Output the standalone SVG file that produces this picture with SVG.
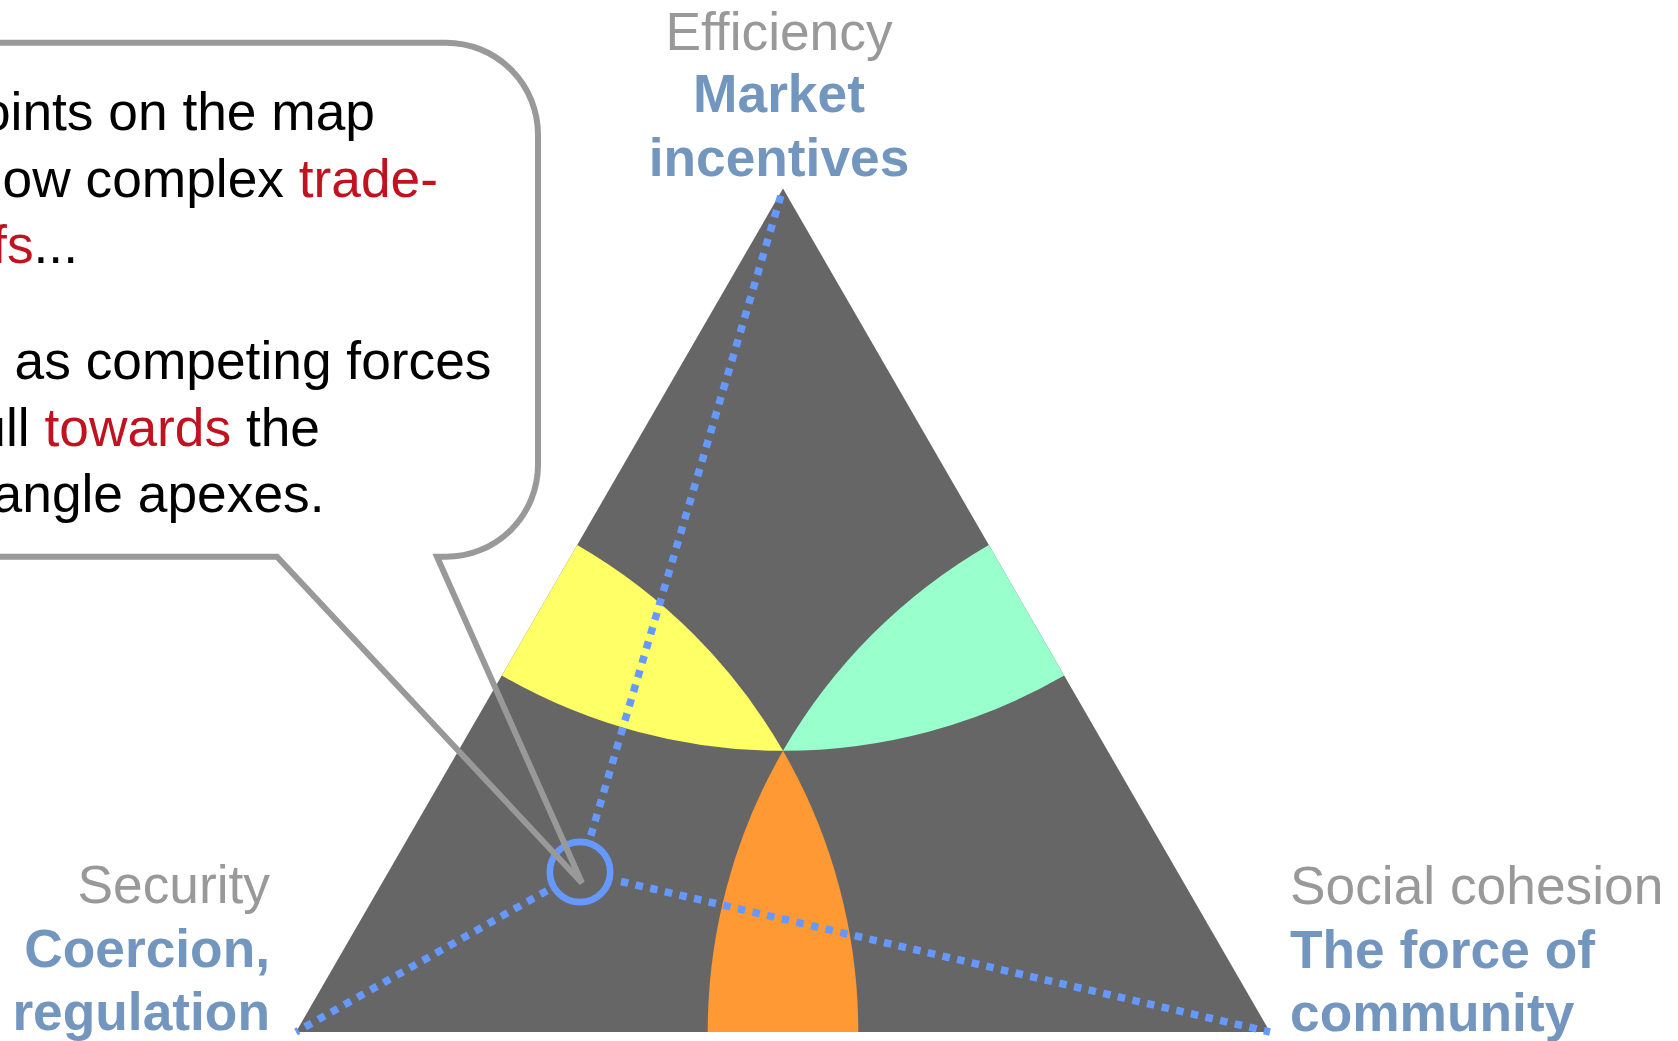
<svg xmlns="http://www.w3.org/2000/svg" width="1678" height="1041" viewBox="0 0 1678 1041">
  <style>
    .lbl { font-family: "Liberation Sans", Arial, sans-serif; font-size: 53.3px; }
    .grey { fill: #999999; }
    .blue { fill: #7396BE; font-weight: bold; }
    .txt { font-family: "Liberation Sans", Arial, sans-serif; font-size: 53.3px; fill: #000000; }
    .red { fill: #C1121F; }
    .dot { fill: none; stroke: #6699FF; stroke-width: 7.5; stroke-dasharray: 7.5 7.5; }
  </style>
  <rect width="1678" height="1041" fill="#FFFFFF"/>

  <g id="triangle">
    <path d="M783 188.5 L1270 1032 L296 1032 Z" fill="#666666"/>
  </g>
  <g id="region-yellow">
    <path d="M501.8 675.5 L577.2 545 A562.3 562.3 0 0 1 783 750.8 A562.3 562.3 0 0 1 501.8 675.5 Z" fill="#FFFF66"/>
  </g>
  <g id="region-green">
    <path d="M988.8 545 L1064.2 675.5 A562.3 562.3 0 0 1 783 750.8 A562.3 562.3 0 0 1 988.8 545 Z" fill="#99FFCC"/>
  </g>
  <g id="region-orange">
    <path d="M707.7 1032 A562.3 562.3 0 0 1 783 750.8 A562.3 562.3 0 0 1 858.3 1032 Z" fill="#FF9933"/>
  </g>

  <g id="connectors">
    <line class="dot" x1="590.8" y1="835.6" x2="783" y2="188.5"/>
    <line class="dot" x1="546.9" y1="890.7" x2="296" y2="1032"/>
    <line class="dot" x1="621" y1="881.5" x2="1270" y2="1032"/>
  </g>

  <g id="point">
    <circle cx="580" cy="872" r="30.2" fill="none" stroke="#6699FF" stroke-width="6.7"/>
  </g>

  <g id="callout">
    <path d="M-100 42.7 H446 A92 92 0 0 1 538 134.7 V464.7 A92 92 0 0 1 446 556.7 H437 L582 883 L277 556.7 H-100 Z" fill="none" stroke="#999999" stroke-width="6"/>
    <text class="txt" text-anchor="end" x="375" y="130">oints on the map</text>
    <text class="txt" text-anchor="end" x="438" y="196.7">ow complex <tspan class="red">trade-</tspan></text>
    <text class="txt" text-anchor="end" x="78" y="263"><tspan class="red">fs</tspan>...</text>
    <text class="txt" text-anchor="end" x="491.5" y="379.3">as competing forces</text>
    <text class="txt" text-anchor="end" x="320" y="446">ull <tspan class="red">towards</tspan> the</text>
    <text class="txt" text-anchor="end" x="324.5" y="511.7">angle apexes.</text>
  </g>

  <g id="label-top">
    <text class="lbl grey" text-anchor="middle" x="779" y="49.5">Efficiency</text>
    <text class="lbl blue" text-anchor="middle" x="779" y="112">Market</text>
    <text class="lbl blue" text-anchor="middle" x="779" y="176">incentives</text>
  </g>
  <g id="label-left">
    <text class="lbl grey" text-anchor="end" x="270" y="903">Security</text>
    <text class="lbl blue" text-anchor="end" x="270" y="967">Coercion,</text>
    <text class="lbl blue" text-anchor="end" x="270" y="1030">regulation</text>
  </g>
  <g id="label-right">
    <text class="lbl grey" x="1290" y="904">Social cohesion</text>
    <text class="lbl blue" x="1290" y="968">The force of</text>
    <text class="lbl blue" x="1290" y="1031">community</text>
  </g>
</svg>
